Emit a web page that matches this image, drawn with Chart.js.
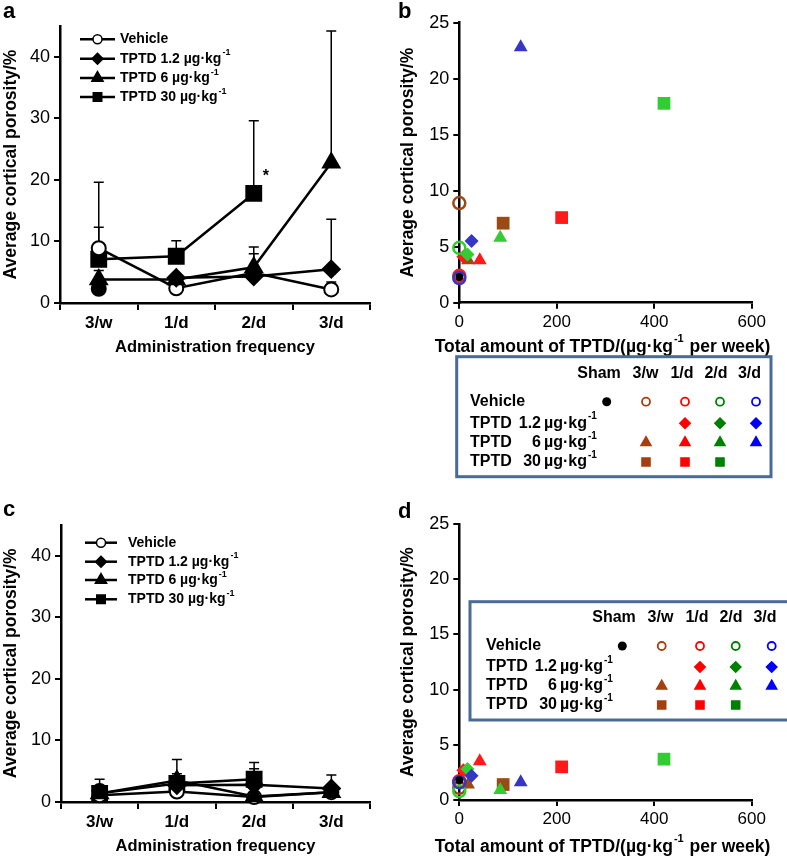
<!DOCTYPE html>
<html>
<head>
<meta charset="utf-8">
<script src="https://cdn.jsdelivr.net/npm/chart.js@4.4.1/dist/chart.umd.min.js"></script>
<style>
  body { margin: 0; background: #fff; }
  #wrap { position: relative; width: 787px; height: 859px; overflow: hidden; font-family: 'Liberation Sans', Arial, sans-serif; }
  .panel { position: absolute; }
  .letter { position: absolute; font-weight: bold; font-size: 22px; line-height: 1; color: #000; }
</style>
</head>
<body>
<div id="wrap">
  <div class="panel" style="left:0;top:0"><canvas id="chartA" width="390" height="420"></canvas></div>
  <div class="panel" style="left:390px;top:0"><canvas id="chartB" width="397" height="482"></canvas></div>
  <div class="panel" style="left:0;top:490px"><canvas id="chartC" width="390" height="369"></canvas></div>
  <div class="panel" style="left:390px;top:490px"><canvas id="chartD" width="397" height="369"></canvas></div>
  <div class="letter" style="left:3px;top:0">a</div>
  <div class="letter" style="left:398px;top:0">b</div>
  <div class="letter" style="left:3px;top:498px">c</div>
  <div class="letter" style="left:398px;top:500px">d</div>
</div>
<script>
const FONT = "'Liberation Sans', Arial, sans-serif";

// Kategorie i etykiety
const freqLabels = ['3/w', '1/d', '2/d', '3/d'];
const seriesNames = ['Vehicle', 'TPTD 1.2 µg·kg^-1', 'TPTD 6 µg·kg^-1', 'TPTD 30 µg·kg^-1'];
const yTicksLine = [0, 10, 20, 30, 40];
const yTicksScatter = [0, 5, 10, 15, 20, 25];
const xTicksScatter = [0, 200, 400, 600];

// Eksperyment 1 (panele a, b)
const shamA = 2.3;
const vehicleA = [8.9, 2.4, 4.9, 2.2];
const tptd12A = [null, 4.1, 4.3, 5.5];
const tptd6A = [3.8, 3.8, 5.8, 22.8];
const tptd30A = [7.1, 7.6, 17.8, null];
const vehicleErrA = [3.4, null, 3.1, 1.2];
const tptd12ErrA = [null, null, null, 8.1];
const tptd6ErrA = [1.5, null, 3.3, 21.4];
const tptd30ErrA = [12.5, 2.5, 11.8, null];

// Eksperyment 2 (panele c, d)
const shamC = 1.8;
const vehicleC = [1.1, 1.7, 0.8, 1.6];
const tptd12C = [null, 2.7, 2.8, 2.2];
const tptd6C = [1.4, 3.5, 0.9, 1.6];
const tptd30C = [1.4, 3.0, 3.7, null];
const vehicleErrC = [null, null, null, null];
const tptd12ErrC = [null, null, 2.6, 2.2];
const tptd6ErrC = [2.3, 3.4, null, null];
const tptd30ErrC = [null, 1.6, 2.7, null];

// Całkowita dawka tygodniowa (µg/kg na tydzień)
const doseVehicle = [0, 0, 0, 0];
const dose12 = [3.6, 8.4, 16.8, 25.2];
const dose6 = [18, 42, 84, 126];
const dose30 = [90, 210, 420, 630];

// Kolory wg częstotliwości: 3/w, 1/d, 2/d, 3/d
const scatterColors = ['#9A4A12', '#FF1A1A', '#33CC33', '#3535C8'];
const keyColors = ['#A63F10', '#FF0000', '#008000', '#0000FF'];

function drawLabel(ctx, text, x, y, size, align) {
  const parts = text.split('^');
  ctx.font = `bold ${size}px ${FONT}`;
  ctx.textBaseline = 'middle';
  ctx.textAlign = align || 'left';
  ctx.fillText(parts[0], x, y);
  if (parts[1]) {
    const w = ctx.measureText(parts[0]).width;
    ctx.font = `bold ${Math.round(size * 0.62)}px ${FONT}`;
    ctx.textAlign = 'left';
    ctx.fillText(parts[1], x + w + 1, y - size * 0.42);
  }
}

// Tekst z indeksem górnym, wyśrodkowany: 'a^b^c' -> a, sup(b), c
function drawCentered(ctx, text, cx, y, size) {
  const parts = text.split('^');
  const fonts = parts.map((p, i) => `bold ${i % 2 ? Math.round(size * 0.62) : size}px ${FONT}`);
  const widths = parts.map((p, i) => { ctx.font = fonts[i]; return ctx.measureText(p).width + (i % 2 ? 2 : 0); });
  let x = cx - widths.reduce((a, b) => a + b, 0) / 2;
  ctx.textBaseline = 'middle';
  ctx.textAlign = 'left';
  parts.forEach((p, i) => {
    ctx.font = fonts[i];
    ctx.fillText(p, x + (i % 2 ? 1 : 0), i % 2 ? y - size * 0.42 : y);
    x += widths[i];
  });
}

// Słupki błędów (tylko w górę)
const errorBarPlugin = {
  id: 'errorBars',
  beforeDatasetsDraw(chart) {
    const ctx = chart.ctx;
    const yScale = chart.scales.y;
    ctx.save();
    ctx.strokeStyle = '#000';
    ctx.lineWidth = 1.5;
    chart.data.datasets.forEach((ds, di) => {
      if (!ds.errors) return;
      const meta = chart.getDatasetMeta(di);
      ds.errors.forEach((err, i) => {
        if (err == null || ds.data[i] == null) return;
        const pt = meta.data[i];
        const yTop = yScale.getPixelForValue(ds.data[i] + err);
        ctx.beginPath();
        ctx.moveTo(pt.x, pt.y);
        ctx.lineTo(pt.x, yTop);
        ctx.moveTo(pt.x - 5, yTop);
        ctx.lineTo(pt.x + 5, yTop);
        ctx.stroke();
      });
    });
    ctx.restore();
  }
};

// Legenda z linią i markerem (panele a, c)
function lineLegendPlugin(cfg) {
  return {
    id: 'lineLegend',
    afterDraw(chart) {
      const ctx = chart.ctx;
      ctx.save();
      seriesNames.forEach((name, i) => {
        const ds = chart.data.datasets[i];
        const y = cfg.rowY[i];
        ctx.strokeStyle = '#000';
        ctx.lineWidth = 2.5;
        ctx.beginPath();
        ctx.moveTo(cfg.x0, y);
        ctx.lineTo(cfg.x1, y);
        ctx.stroke();
        ctx.fillStyle = ds.pointBackgroundColor;
        ctx.lineWidth = 1.5;
        Chart.helpers.drawPoint(ctx, { pointStyle: ds.pointStyle, radius: cfg.radius[i], borderWidth: 1.5, rotation: 0 }, (cfg.x0 + cfg.x1) / 2, y);
        ctx.fillStyle = '#000';
        drawLabel(ctx, name, cfg.textX, y, cfg.font);
      });
      if (cfg.star) {
        const meta = chart.getDatasetMeta(cfg.star.dataset);
        const pt = meta.data[cfg.star.index];
        ctx.font = `bold 16px ${FONT}`;
        ctx.textAlign = 'center';
        ctx.textBaseline = 'middle';
        ctx.fillText('*', pt.x + 12, pt.y - 17);
      }
      ctx.restore();
    }
  };
}

// Ramka z kluczem kolorów (panele b, d) + tytuł osi X
function keyBoxPlugin(k, series) {
  return {
    id: 'keyBox',
    afterDraw(chart) {
      const ctx = chart.ctx;
      const xs = chart.scales.x;
      ctx.save();
      ctx.fillStyle = '#000';
      drawCentered(ctx, 'Total amount of TPTD/(µg·kg^-1^ per week)', (xs.left + xs.right) / 2 - 3, xs.top + k.titleDy, 17.5);

      const [l, t, r, b] = k.box;
      ctx.fillStyle = '#fff';
      ctx.fillRect(l, t, r - l, b - t);
      ctx.strokeStyle = '#4A6A98';
      ctx.lineWidth = 3;
      ctx.strokeRect(l, t, r - l, b - t);
      ctx.fillStyle = '#000';
      ['Sham'].concat(freqLabels).forEach((h, i) => drawLabel(ctx, h, k.headerX[i], k.headerY, 16, 'center'));
      const rows = [['Vehicle', ''], ['TPTD', '1.2'], ['TPTD', '6'], ['TPTD', '30']];
      rows.forEach((row, ri) => {
        const y = k.rowY[ri];
        ctx.fillStyle = '#000';
        drawLabel(ctx, row[0], k.textX, y, 16);
        if (row[1]) {
          drawLabel(ctx, row[1], k.numRight, y, 16, 'right');
          drawLabel(ctx, 'µg·kg^-1', k.unitX, y, 16);
        }
      });
      // sham
      ctx.fillStyle = '#000';
      Chart.helpers.drawPoint(ctx, { pointStyle: 'circle', radius: 4.5, borderWidth: 0, rotation: 0 }, k.markerX[0], k.rowY[0]);
      const styles = ['circle', 'rectRot', 'triangle', 'rect'];
      const sizes = [4, 5, 5.5, 5.5];
      series.forEach((vals, si) => {
        vals.forEach((v, fi) => {
          if (v == null) return;
          const c = keyColors[fi];
          ctx.strokeStyle = c;
          ctx.fillStyle = si === 0 ? '#fff' : c;
          ctx.lineWidth = si === 0 ? 1.8 : 0;
          Chart.helpers.drawPoint(ctx, { pointStyle: styles[si], radius: sizes[si], borderWidth: ctx.lineWidth, rotation: 0 }, k.markerX[fi + 1], k.rowY[si]);
        });
      });
      ctx.restore();
    }
  };
}

function yAxis(ticks, max, width, titlePad) {
  return {
    type: 'linear', min: 0, max: max,
    afterBuildTicks: s => { s.ticks = ticks.map(v => ({ value: v })); },
    afterFit: s => { s.width = width; },
    border: { color: '#000', width: 2.5 },
    grid: { display: true, drawOnChartArea: false, drawTicks: true, tickLength: 6, lineWidth: 2, tickColor: '#000', color: '#000' },
    ticks: { color: '#000', font: { family: FONT, size: 18 }, padding: 4 },
    title: { display: true, text: 'Average cortical porosity/%', color: '#000', font: { family: FONT, size: 17.5, weight: 'bold' }, padding: { top: titlePad, bottom: 0 } }
  };
}

function lineChart(id, vals, errs, sham, pad, xH, legendCfg) {
  const common = { borderColor: '#000', borderWidth: 2.5, pointBorderColor: '#000', pointBorderWidth: 2, tension: 0, clip: false, spanGaps: false };
  // order: wyższa wartość = rysowane wcześniej (pod spodem)
  const datasets = [
    Object.assign({ label: seriesNames[0], data: vals[0], errors: errs[0], order: 3, pointStyle: 'circle', pointRadius: 7, pointBackgroundColor: '#fff' }, common),
    Object.assign({ label: seriesNames[1], data: vals[1], errors: errs[1], order: 1, pointStyle: 'rectRot', pointRadius: 8.5, pointBackgroundColor: '#000' }, common),
    Object.assign({ label: seriesNames[2], data: vals[2], errors: errs[2], order: 2, pointStyle: 'triangle', pointRadius: 9.5, pointBackgroundColor: '#000' }, common),
    Object.assign({ label: seriesNames[3], data: vals[3], errors: errs[3], order: 4, pointStyle: 'rect', pointRadius: 10.5, pointBackgroundColor: '#000' }, common),
    Object.assign({}, common, { label: 'Sham', data: [sham, null, null, null], order: 5, showLine: false, pointStyle: 'circle', pointRadius: 7, pointBackgroundColor: '#000' })
  ];
  return new Chart(document.getElementById(id), {
    type: 'line',
    data: { labels: freqLabels, datasets: datasets },
    options: {
      responsive: false, animation: false,
      layout: { padding: pad },
      plugins: { legend: { display: false }, tooltip: { enabled: false } },
      scales: {
        x: {
          type: 'category', offset: true,
          afterFit: s => { s.height = xH; },
          border: { color: '#000', width: 2.5 },
          grid: { display: true, offset: true, drawOnChartArea: false, drawTicks: true, tickLength: 7, lineWidth: 2, tickColor: '#000', color: '#000' },
          ticks: { color: '#000', font: { family: FONT, size: 17, weight: 'bold' }, padding: 3 },
          title: { display: true, text: 'Administration frequency', color: '#000', font: { family: FONT, size: 16.5, weight: 'bold' }, padding: { top: 0, bottom: legendCfg.titleBottom } }
        },
        y: yAxis(yTicksLine, 45, legendCfg.yW, 1)
      }
    },
    plugins: [errorBarPlugin, lineLegendPlugin(legendCfg)]
  });
}

function scatterChart(id, vals, sham, pad, xH, key) {
  const pts = (xs, ys) => xs.map((x, i) => ({ x: x, y: ys[i] }));
  const datasets = [
    { label: 'Sham', data: [{ x: 0, y: sham }], pointStyle: 'circle', pointRadius: 4, pointBackgroundColor: '#000', pointBorderColor: '#000', pointBorderWidth: 0 },
    { label: 'Vehicle', data: pts(doseVehicle, vals[0]), pointStyle: 'circle', pointRadius: 6, pointBackgroundColor: 'rgba(0,0,0,0)', pointBorderColor: scatterColors, pointBorderWidth: 2.5 },
    { label: 'TPTD 1.2', data: pts(dose12, vals[1]), pointStyle: 'rectRot', pointRadius: 7, pointBackgroundColor: scatterColors, pointBorderColor: scatterColors, pointBorderWidth: 0 },
    { label: 'TPTD 6', data: pts(dose6, vals[2]), pointStyle: 'triangle', pointRadius: 8, pointBackgroundColor: scatterColors, pointBorderColor: scatterColors, pointBorderWidth: 0 },
    { label: 'TPTD 30', data: pts(dose30, vals[3]), pointStyle: 'rect', pointRadius: 9, pointBackgroundColor: scatterColors, pointBorderColor: scatterColors, pointBorderWidth: 0 }
  ];
  datasets.forEach(ds => { ds.clip = false; ds.showLine = false; });
  return new Chart(document.getElementById(id), {
    type: 'scatter',
    data: { datasets: datasets },
    options: {
      responsive: false, animation: false,
      layout: { padding: pad },
      plugins: { legend: { display: false }, tooltip: { enabled: false } },
      scales: {
        x: {
          type: 'linear', min: 0, max: 600,
          afterBuildTicks: s => { s.ticks = xTicksScatter.map(v => ({ value: v })); },
          afterFit: s => { s.height = xH; },
          border: { color: '#000', width: 2.5 },
          grid: { display: true, drawOnChartArea: false, drawTicks: true, tickLength: 6, lineWidth: 2, tickColor: '#000', color: '#000' },
          ticks: { color: '#000', font: { family: FONT, size: 17 }, padding: 3 },
          title: { display: false }
        },
        y: yAxis(yTicksScatter, 25, 69.3, 8)
      }
    },
    plugins: [keyBoxPlugin(key, vals)]
  });
}

document.addEventListener('DOMContentLoaded', function() {
  lineChart('chartA',
    [vehicleA, tptd12A, tptd6A, tptd30A],
    [vehicleErrA, tptd12ErrA, tptd6ErrA, tptd30ErrA],
    shamA,
    { left: 0, right: 20, top: 26, bottom: 57 }, 60,
    { x0: 80, x1: 115, textX: 120, rowY: [39.3, 58.7, 78, 97], radius: [4.5, 5.5, 6.5, 6], font: 14, yW: 60, titleBottom: 6, star: { dataset: 3, index: 2 } });

  scatterChart('chartB',
    [vehicleA, tptd12A, tptd6A, tptd30A], shamA,
    { left: 0, right: 35.3, top: 22.7, bottom: 119.3 }, 60,
    { titleDy: 44, box: [66.7, 356.7, 381, 476.7], headerY: 373.3, headerX: [209, 255.5, 292, 326, 359.5], markerX: [216.7, 256, 295, 330, 366], rowY: [401.7, 423.3, 442.5, 462], textX: 80, numRight: 151, unitX: 154 });

  lineChart('chartC',
    [vehicleC, tptd12C, tptd6C, tptd30C],
    [vehicleErrC, tptd12ErrC, tptd6ErrC, tptd30ErrC],
    shamC,
    { left: 0, right: 20, top: 34.8, bottom: 0 }, 57,
    { x0: 85, x1: 117, textX: 128, rowY: [52.7, 71.7, 90, 109.3], radius: [4.5, 5.5, 6.5, 6], font: 14, yW: 61, titleBottom: 3 });

  scatterChart('chartD',
    [vehicleC, tptd12C, tptd6C, tptd30C], shamC,
    { left: 0, right: 35.3, top: 34, bottom: 0 }, 59,
    { titleDy: 46.7, box: [80, 111.7, 400, 230], headerY: 127.7, headerX: [224, 270.5, 307, 341, 375], markerX: [232.3, 271.7, 310, 345.7, 381.7], rowY: [156, 177, 196, 215], textX: 96, numRight: 167, unitX: 170 });
});
</script>
</body>
</html>
